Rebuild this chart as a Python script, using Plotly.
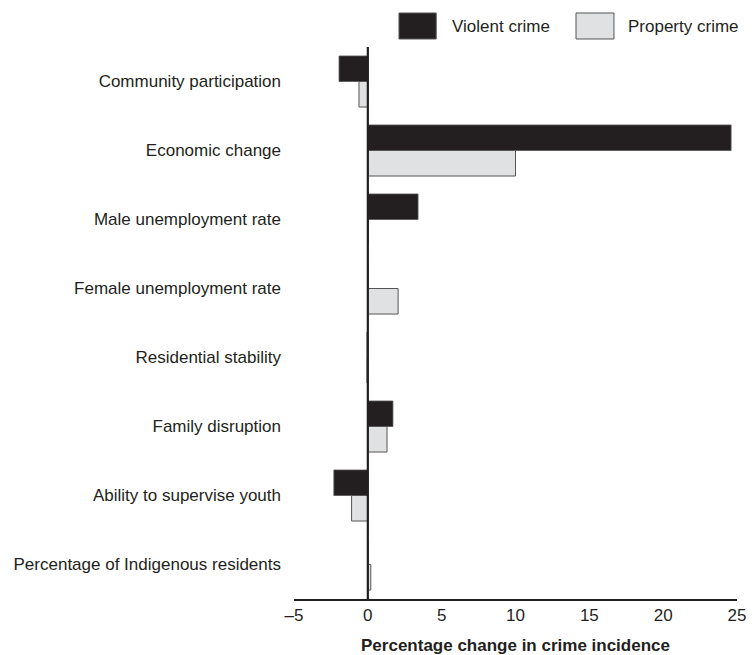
import plotly.graph_objects as go

categories = [
    "Community participation",
    "Economic change",
    "Male unemployment rate",
    "Female unemployment rate",
    "Residential stability",
    "Family disruption",
    "Ability to supervise youth",
    "Percentage of Indigenous residents",
]
violent = [-1.95, 24.6, 3.4, 0.0, -0.06, 1.7, -2.3, 0.0]
property_ = [-0.6, 10.0, 0.0, 2.05, -0.06, 1.3, -1.1, 0.2]
x_ticks = [-5, 0, 5, 10, 15, 20, 25]
x_ticktext = ["\u20135", "0", "5", "10", "15", "20", "25"]

VIOLENT_COLOR = "#231f20"
PROPERTY_COLOR = "#e0e1e3"
FONT = "Liberation Sans, Arial, sans-serif"

fig = go.Figure()
fig.add_trace(go.Bar(
    y=categories, x=violent, orientation="h", name="Violent crime",
    marker=dict(color=VIOLENT_COLOR, line=dict(color="#555555", width=0.8)),
    showlegend=False,
))
fig.add_trace(go.Bar(
    y=categories, x=property_, orientation="h", name="Property crime",
    marker=dict(color=PROPERTY_COLOR, line=dict(color="#555555", width=1)),
    showlegend=False,
))

# zero line above bars
fig.add_shape(type="line", xref="x", yref="paper", x0=0, x1=0, y0=0, y1=1,
              line=dict(color=VIOLENT_COLOR, width=2.2), layer="above")

# custom legend
legend_items = [("Violent crime", VIOLENT_COLOR, 0.237, 0.321, 0.352),
                ("Property crime", PROPERTY_COLOR, 0.6366, 0.7223, 0.7487)]
for name, col, bx0, bx1, tx in legend_items:
    fig.add_shape(type="rect", xref="paper", yref="paper", x0=bx0, x1=bx1,
                  y0=1.0145, y1=1.0616, fillcolor=col,
                  line=dict(color="#555555", width=1))
    fig.add_annotation(xref="paper", yref="paper", x=tx, y=1.038, text=name,
                       showarrow=False, xanchor="left", yanchor="middle",
                       font=dict(family=FONT, size=17, color=VIOLENT_COLOR))

fig.update_layout(
    width=754, height=655,
    margin=dict(l=294, r=17, t=47, b=56),
    paper_bgcolor="white", plot_bgcolor="white",
    barmode="group", bargap=0.26, bargroupgap=0,
    font=dict(family=FONT, size=17, color=VIOLENT_COLOR),
    xaxis=dict(
        range=[-5, 25], tickmode="array", tickvals=x_ticks, ticktext=x_ticktext,
        showgrid=False, zeroline=False, showline=True, linecolor=VIOLENT_COLOR,
        linewidth=1.5, ticks="", ticklabelstandoff=0, automargin=False,
        tickfont=dict(size=17, color=VIOLENT_COLOR),
        title=dict(text="<b>Percentage change in crime incidence</b>",
                   font=dict(size=17, color=VIOLENT_COLOR), standoff=18),
    ),
    yaxis=dict(
        autorange="reversed", showgrid=False, zeroline=False, showline=False,
        ticks="", ticklabelstandoff=12, automargin=False,
        tickfont=dict(size=17, color=VIOLENT_COLOR),
    ),
)

fig.write_html("out.html", config={"displayModeBar": False},
               post_script="document.body.style.margin='0';document.body.style.padding='0';")
